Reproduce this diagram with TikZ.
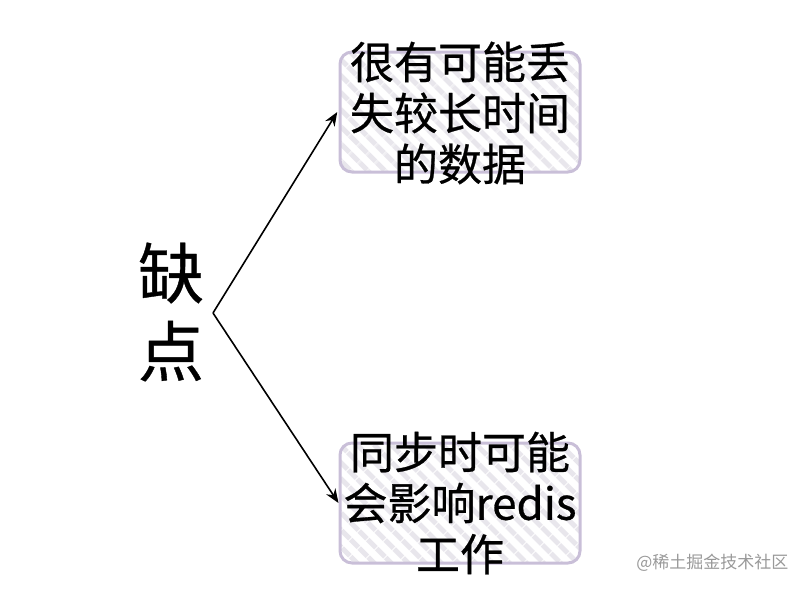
\documentclass[tikz,border=0pt]{standalone}
\usepackage{fontspec}
\newfontfamily\cjk[FakeBold=0.6]{Noto Sans CJK SC}
\newfontfamily\cjklight{Noto Sans CJK SC}
\usetikzlibrary{patterns.meta,arrows.meta}
\definecolor{boxedge}{HTML}{C9BFD8}
\definecolor{hatch}{HTML}{E8E6EC}
\tikzset{
  box/.style={draw=boxedge, line width=3pt, rounded corners=12pt,
    pattern={Lines[angle=-45,distance=13pt,line width=5.5pt]}, pattern color=hatch,
    minimum width=240pt, minimum height=120pt},
  boxtext/.style={font=\cjk\fontsize{44}{51}\selectfont, align=center, text=black},
  conn/.style={line width=1.6pt, -{Stealth[length=14pt,width=11pt]}},
}
\begin{document}
\begin{tikzpicture}[x=1pt,y=-1pt]
\useasboundingbox (0,0) rectangle (808,590);
\node[box] (b1) at (460,112) {};
\node[boxtext] (t1) at (460,113) {很有可能丢\\失较长时间\\的数据};
\node[box] (b2) at (460,503) {};
\node[boxtext] (t2) at (460,503) {同步时可能\\会影响redis\\工作};
\node[font=\cjk\fontsize{66}{78}\selectfont, align=center] (q) at (171,312) {缺\\点};
\coordinate (s) at (213,313);
\draw[conn] (s) -- (b1.west);
\draw[conn] (s) -- (b2.west);
\node[font=\cjklight\fontsize{17}{20}\selectfont, text=black!40, anchor=east] (w) at (792,563) {@稀土掘金技术社区};
\end{tikzpicture}
\end{document}
